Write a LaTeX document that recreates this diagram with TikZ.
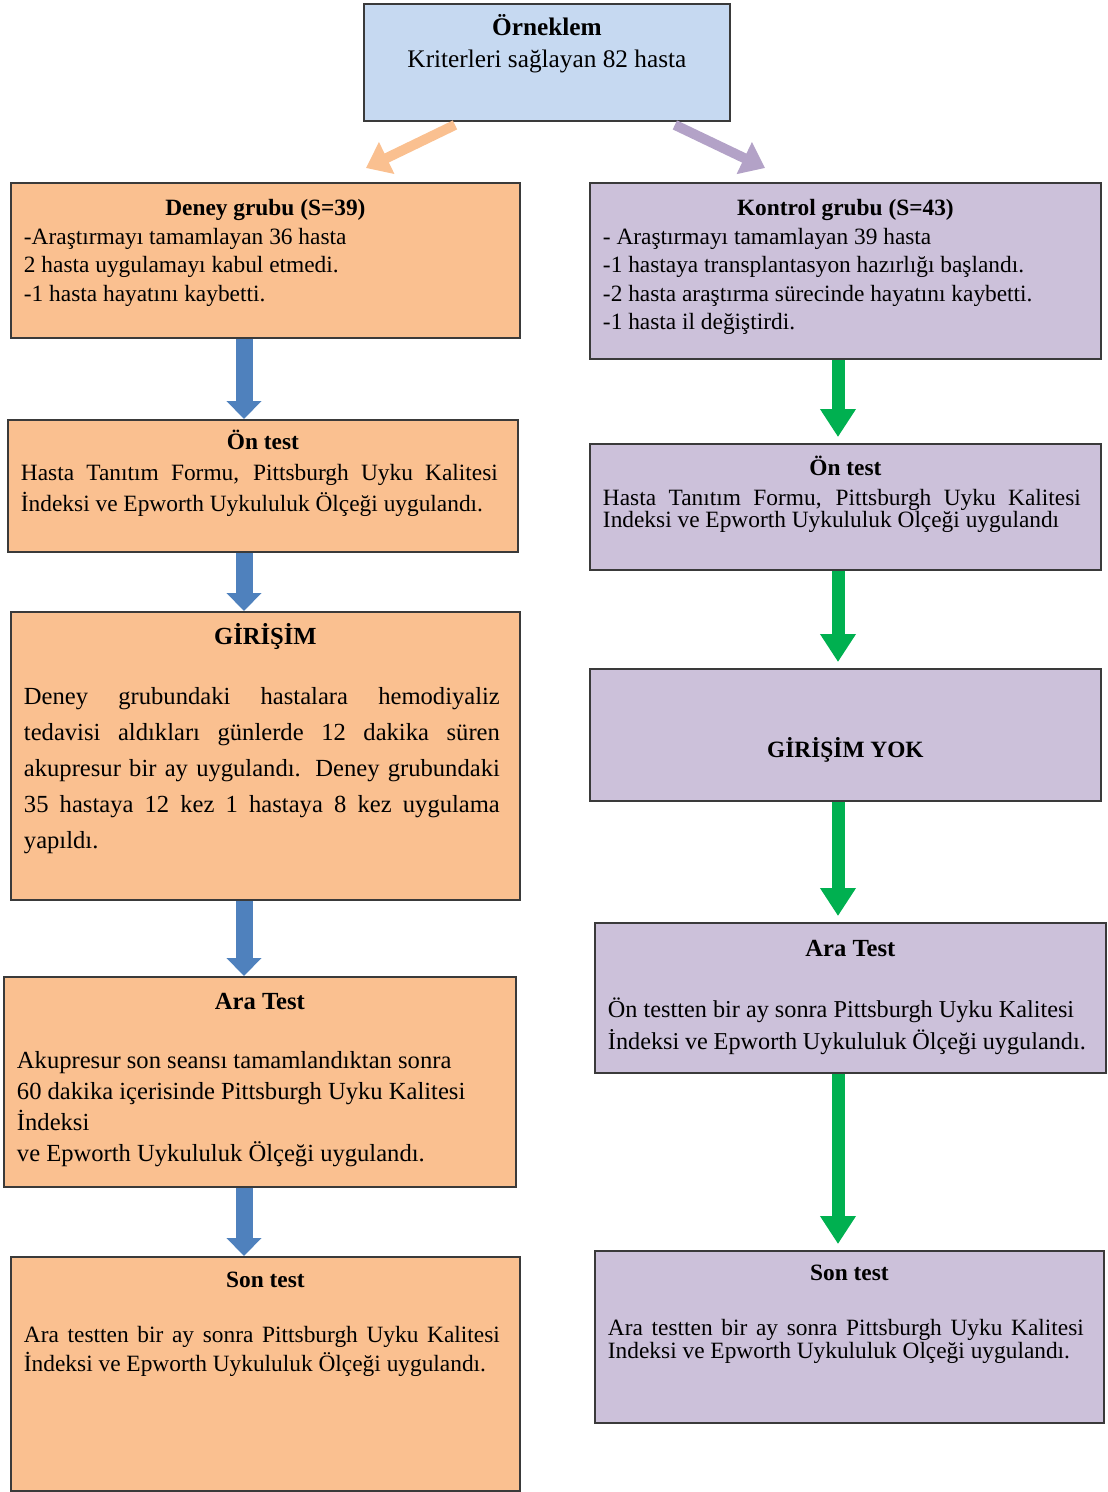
\documentclass[tikz,border=0pt]{standalone}
\usepackage{fontspec}
\setmainfont{Liberation Serif}
\usetikzlibrary{arrows.meta}

\definecolor{ornekfill}{HTML}{C6D9F1}
\definecolor{deneyfill}{HTML}{FAC090}
\definecolor{kontrolfill}{HTML}{CCC1DA}
\definecolor{kenar}{HTML}{3A3A3A}
\definecolor{okmavi}{HTML}{4F81BD}
\definecolor{okyesil}{HTML}{00B050}
\definecolor{okturuncu}{HTML}{FAC090}
\definecolor{okmor}{HTML}{B3A2C7}

% box body: width, height, first baseline, title, text
\newcommand{\boxtext}[5]{%
  \begin{minipage}[c][#2][t]{#1}%
    \hyphenpenalty=10000 \tolerance=10000 \hbadness=10000
    \centering\rule{0pt}{#3}\textbf{#4}\par
    \leftskip=0.26cm \rightskip=0.4cm \parfillskip=0pt plus 1fil
    #5\par
  \end{minipage}}

\tikzset{
  panel/.style={draw=kenar, line width=1.1pt, inner sep=0pt, anchor=north west,
    font=\fontsize{13.3}{16.2}\selectfont},
  maviok/.style={draw=okmavi, line width=0.34cm, -{Triangle[length=0.36cm,width=0.68cm]}},
  yesilok/.style={draw=okyesil, line width=0.26cm, shorten >=0.12cm,
    -{Triangle[length=0.56cm,width=0.68cm]}},
  turuncuok/.style={draw=okturuncu, line width=0.2cm, -{Triangle[length=0.46cm,width=0.68cm]}},
  morok/.style={draw=okmor, line width=0.2cm, -{Triangle[length=0.46cm,width=0.68cm]}}
}

\begin{document}
\begin{tikzpicture}[x=0.02cm, y=-0.02cm]
    \useasboundingbox (0,0) rectangle (1107,1492);
    % sample
    \node[panel, fill=ornekfill, font=\fontsize{14.4}{18.2}\selectfont] (ornek) at (363,3)
        {\boxtext{7.32cm}{2.34cm}{0.64cm}{Örneklem}{\centering Kriterleri sağlayan 82 hasta}};
    % left column
    \node[panel, fill=deneyfill] (deney) at (10,182)
        {\boxtext{10.18cm}{3.10cm}{0.66cm}{Deney grubu (S=39)}{-Araştırmayı tamamlayan 36 hasta\newline 2 hasta uygulamayı kabul etmedi.\newline -1 hasta hayatını kaybetti.}};
    \node[panel, fill=deneyfill] (ontestL) at (7,419)
        {\boxtext{10.20cm}{2.64cm}{0.60cm}{Ön test}{\fontsize{13.3}{17.5}\selectfont Hasta Tanıtım Formu, Pittsburgh Uyku Kalitesi\linebreak İndeksi ve Epworth Uykululuk Ölçeği uygulandı.}};
    \node[panel, fill=deneyfill, font=\fontsize{14}{16.5}\selectfont] (girisim) at (10,611)
        {\boxtext{10.18cm}{5.76cm}{0.66cm}{GİRİŞİM}{\fontsize{14}{20.5}\selectfont\vspace{13.6pt}Deney grubundaki hastalara hemodiyaliz\linebreak tedavisi aldıkları günlerde 12 dakika süren\linebreak akupresur bir ay uygulandı. Deney grubundaki\linebreak 35 hastaya 12 kez 1 hastaya 8 kez uygulama\linebreak yapıldı.}};
    \node[panel, fill=deneyfill, font=\fontsize{14}{16.5}\selectfont] (araL) at (3,976)
        {\boxtext{10.24cm}{4.20cm}{0.66cm}{Ara Test}{\fontsize{14}{17.5}\selectfont\vspace{16pt}Akupresur son seansı tamamlandıktan sonra\newline 60 dakika içerisinde Pittsburgh Uyku Kalitesi\newline İndeksi\newline ve Epworth Uykululuk Ölçeği uygulandı.}};
    \node[panel, fill=deneyfill] (sonL) at (10,1256)
        {\boxtext{10.18cm}{4.68cm}{0.62cm}{Son test}{\fontsize{13.3}{16.5}\selectfont\vspace{14.8pt}Ara testten bir ay sonra Pittsburgh Uyku Kalitesi\linebreak İndeksi ve Epworth Uykululuk Ölçeği uygulandı.}};
    % right column
    \node[panel, fill=kontrolfill] (kontrol) at (589,182)
        {\boxtext{10.22cm}{3.52cm}{0.66cm}{Kontrol grubu (S=43)}{- Araştırmayı tamamlayan 39 hasta\newline -1 hastaya transplantasyon hazırlığı başlandı.\newline -2 hasta araştırma sürecinde hayatını kaybetti.\newline -1 hasta il değiştirdi.}};
    \node[panel, fill=kontrolfill] (ontestR) at (589,443)
        {\boxtext{10.22cm}{2.52cm}{0.64cm}{Ön test}{\fontsize{13.3}{12.5}\selectfont\vspace{4.5pt}Hasta Tanıtım Formu, Pittsburgh Uyku Kalitesi\linebreak Indeksi ve Epworth Uykululuk Olçeği uygulandı}};
    \node[panel, fill=kontrolfill] (yok) at (589,668)
        {\boxtext{10.22cm}{2.64cm}{1.78cm}{GİRİŞİM YOK}{}};
    \node[panel, fill=kontrolfill, font=\fontsize{14}{18.2}\selectfont] (araR) at (594,922)
        {\boxtext{10.22cm}{3.00cm}{0.68cm}{Ara Test}{\fontsize{13.8}{18.2}\selectfont\vspace{16.5pt}Ön testten bir ay sonra Pittsburgh Uyku Kalitesi\newline İndeksi ve Epworth Uykululuk Ölçeği uygulandı.}};
    \node[panel, fill=kontrolfill] (sonR) at (594,1250)
        {\boxtext{10.18cm}{3.44cm}{0.60cm}{Son test}{\fontsize{13.3}{12}\selectfont\vspace{19.3pt}Ara testten bir ay sonra Pittsburgh Uyku Kalitesi\linebreak Indeksi ve Epworth Uykululuk Olçeği uygulandı.}};
    % arrows
    \draw[turuncuok] ([shift={(92,3)}]ornek.south west) -- ([shift={(356,-14)}]deney.north west);
    \draw[morok] ([shift={(-56,3)}]ornek.south east) -- ([shift={(176,-14)}]kontrol.north west);
    \coordinate (solok) at (244,0);
    \coordinate (sagok) at (838,0);
    \foreach \ust/\alt in {deney/ontestL, ontestL/girisim, girisim/araL, araL/sonL}
        \draw[maviok] (\ust.south -| solok) -- (\alt.north -| solok);
    \foreach \ust/\alt in {kontrol/ontestR, ontestR/yok, yok/araR, araR/sonR}
        \draw[yesilok] (\ust.south -| sagok) -- (\alt.north -| sagok);
\end{tikzpicture}
\end{document}
